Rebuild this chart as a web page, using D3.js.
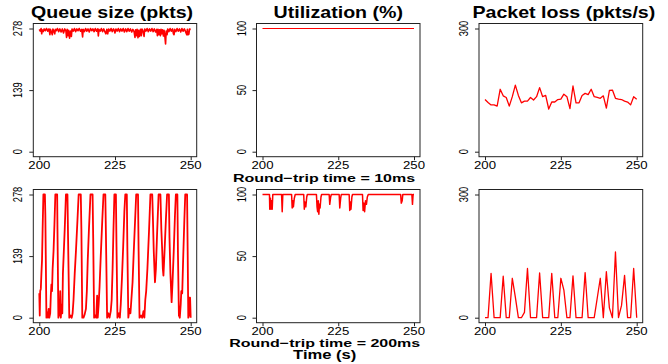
<!DOCTYPE html>
<html><head><meta charset="utf-8">
<script src="https://cdn.jsdelivr.net/npm/d3@7"></script>
<style>body{margin:0;background:#fff}svg{display:block}text{font-family:"Liberation Sans",Arial,Helvetica,sans-serif;fill:#000}</style>
</head><body><svg id="c" width="668" height="364"></svg>
<script>
// ---------- data ----------
const xTicks = [200, 225, 250];
const queueTicks = [0, 139, 278];
const utilTicks = [0, 50, 100];
const lossTicks = [0, 300];
const titles = ["Queue size (pkts)", "Utilization (%)", "Packet loss (pkts/s)"];
const rowLabels = ["Round\u2212trip time = 10ms", "Round\u2212trip time = 200ms"];
const xLabel = "Time (s)";

// RTT = 10ms, queue size
const queue10Time = [200,200.3,200.6,200.8,200.95,201.3,201.6,202,202.4,202.8,203.2,203.5,203.7,204.0,204.3,204.5,204.8,205.1,205.3,205.6,206.0,206.4,206.8,207.2,207.6,208.0,208.4,208.8,209.0,209.2,209.5,209.7,210.0,210.3,210.6,210.8,211.2,211.6,212,212.4,212.8,213.2,213.6,214.0,214.3,214.5,214.9,215.3,215.7,216.1,216.5,216.9,217.3,217.7,218.1,218.5,218.9,219.3,219.5,219.7,220.1,220.5,220.9,221.3,221.7,222.0,222.3,222.6,222.9,223.3,223.7,224.1,224.5,224.8,225.0,225.3,225.7,226.1,226.5,226.9,227.3,227.7,228.1,228.5,228.9,229.3,229.7,230.1,230.5,230.9,231.3,231.6,231.8,232.1,232.3,232.6,232.8,233.1,233.4,233.7,233.9,234.3,234.6,234.8,235.2,235.6,236.0,236.4,236.8,237.2,237.6,238.0,238.4,238.8,239.0,239.2,239.5,239.7,240.0,240.2,240.5,240.7,241.0,241.2,241.5,241.7,241.9,242.2,242.4,242.8,243.2,243.6,244.0,244.3,244.5,244.7,245.1,245.5,245.9,246.3,246.7,247.1,247.5,247.9,248.3,248.7,248.9,249.1,249.4,249.6,250];
const queue10Vals = [276,272,278,266,275,271,277,273,278,272,277,264,276,270,264,277,272,266,276,273,278,271,277,270,277,268,277,272,258,276,262,274,256,272,260,277,272,278,271,277,273,278,272,276,259,276,271,278,272,277,270,278,273,277,271,278,272,277,261,276,272,278,271,277,270,266,276,266,277,272,278,271,277,273,268,277,272,278,271,277,272,278,270,277,271,278,272,277,270,276,271,258,275,262,276,257,274,260,276,262,277,271,260,277,272,278,271,277,272,278,271,277,270,276,262,276,264,275,262,276,266,275,261,274,258,243,272,264,277,271,278,272,277,266,264,276,271,278,272,277,270,278,272,277,271,264,276,264,265,277,276];

// RTT = 10ms, utilization
const util10Time = [200, 250];
const util10Vals = [100, 100];

// packet loss (one value per second, 200..250)
const lossTime = d3.range(200, 251);
const loss10Vals = [127,120,114,114,111,152,136,132,111,134,162,137,119,123,123,132,126,134,156,134,137,104,121,121,127,128,140,134,105,160,119,119,137,142,139,152,134,132,130,136,106,149,150,130,128,127,123,121,114,134,128];
const loss200Vals = [0,0,108,0,0,0,101,0,0,96,50,0,0,13,120,0,0,0,109,0,0,0,108,0,0,96,67,0,0,102,0,0,0,110,0,0,0,48,96,0,112,24,0,160,0,30,103,0,0,120,0];

// RTT = 200ms, queue size
const queue200Time = [200.0,200.15,200.3,200.5,200.7,200.9,201.1,201.35,201.85,202.0,202.35,202.6,202.8,203.1,203.3,203.6,203.8,204.0,204.2,204.4,204.7,205.0,205.3,205.9,206.0,206.3,206.5,206.7,206.9,207.1,207.4,207.6,207.8,208.1,208.4,208.8,209.3,209.5,209.9,210.3,210.7,211.0,211.3,211.7,212.1,212.6,213.0,213.7,213.9,214.2,214.6,215.0,215.4,215.7,216.0,216.4,216.9,217.6,217.8,218.1,218.5,218.8,219.1,219.3,219.6,219.9,220.3,220.8,221.2,221.8,222.0,222.4,222.8,223.2,223.6,223.9,224.2,224.5,224.8,225.3,225.5,225.8,226.3,226.6,226.9,227.3,227.7,228.1,228.4,228.9,229.1,229.4,229.8,230.1,230.4,230.8,231.2,231.7,232.0,232.6,232.8,233.1,233.6,234.0,234.4,234.7,235.0,235.3,235.7,236.2,236.7,237.3,237.5,237.8,238.2,238.5,238.9,239.4,240.0,240.3,240.6,240.8,241.0,241.3,241.8,242.2,242.8,243.0,243.3,243.7,244.0,244.4,244.8,245.1,245.6,245.8,246.1,246.4,246.7,246.9,247.2,247.5,247.9,248.2,248.8,249.0,249.2,249.4,249.6,249.8,250.0];
const queue200Vals = [55,5,60,65,100,130,200,278,278,230,0,12,0,20,0,10,50,75,60,110,150,210,278,278,200,0,40,5,60,0,30,10,100,150,200,278,278,180,0,5,0,10,40,100,150,220,278,278,200,0,0,8,20,60,130,200,278,278,180,0,5,0,50,0,30,70,140,220,278,278,190,0,10,0,15,40,110,200,278,278,160,0,10,0,30,90,160,240,278,278,150,0,20,10,40,80,150,230,278,278,150,0,5,0,15,0,40,60,110,190,278,278,230,150,80,110,190,278,278,200,150,110,95,140,220,278,278,180,100,35,80,150,230,278,278,140,5,0,30,60,55,130,220,278,278,150,0,5,45,45,0];

// RTT = 200ms, utilization
const util200Time = [200,202.3,202.4,202.6,202.8,203.0,203.2,203.4,206.3,206.5,206.7,209.6,209.8,210.0,210.2,210.5,210.8,213.6,213.8,214.0,214.3,214.6,214.8,217.8,218.0,218.2,218.4,218.6,218.8,219.0,219.3,219.5,222.0,222.2,222.5,222.7,225.3,225.5,225.8,226.0,228.6,228.8,229.0,229.2,229.5,229.7,233.0,233.2,233.5,233.7,234.0,234.3,234.6,234.9,245.6,245.8,246.1,246.3,249.3,249.5,249.7,250];
const util200Vals = [100,100,88,97,88,95,88,100,100,86,100,100,89,95,90,97,100,100,88,94,90,98,100,100,90,86,95,84,92,89,98,100,100,92,98,100,100,89,97,100,100,87,94,88,98,100,100,87,93,86,95,92,98,100,100,93,95,100,100,92,100,100];

// ---------- layout ----------
const cols = [[33.3,196.7],[256.5,420],[479,642.7]];
const rows = [[23.5,156.7],[189.5,322.7]];
const padX = 6, padY = 5;

const svg = d3.select("#c");

function txt(x, y, s, size, weight, sx, sy, rot, anchor){
  svg.append("text")
    .attr("transform", `translate(${x},${y}) rotate(${rot||0}) scale(${sx},${sy})`)
    .attr("text-anchor", anchor||"middle")
    .style("font-size", size+"px")
    .style("font-weight", weight)
    .text(s);
}

const panels = [
  {r:0,c:0,ticks:queueTicks,max:278,t:queue10Time,v:queue10Vals,w:1.6},
  {r:0,c:1,ticks:utilTicks,max:100,t:util10Time,v:util10Vals,w:1.2},
  {r:0,c:2,ticks:lossTicks,max:300,t:lossTime,v:loss10Vals,w:1.3},
  {r:1,c:0,ticks:queueTicks,max:278,t:queue200Time,v:queue200Vals,w:1.8},
  {r:1,c:1,ticks:utilTicks,max:100,t:util200Time,v:util200Vals,w:1.5},
  {r:1,c:2,ticks:lossTicks,max:300,t:lossTime,v:loss200Vals,w:1.3}
];

panels.forEach(p=>{
  const [x0,x1] = cols[p.c], [y0,y1] = rows[p.r];
  const x = d3.scaleLinear().domain([200,250]).range([x0+padX, x1-padX]);
  const y = d3.scaleLinear().domain([0,p.max]).range([y1-padY, y0+padY]);
  const g = svg.append("g");
  // data line
  const pts = p.t.map((t,i)=>[t,p.v[i]]);
  g.append("path").datum(pts)
    .attr("d", d3.line().x(d=>x(d[0])).y(d=>y(d[1])))
    .attr("fill","none").attr("stroke","#ff0000")
    .attr("stroke-width",p.w).attr("stroke-linejoin","round");
  // box
  g.append("rect").attr("x",x0).attr("y",y0).attr("width",x1-x0).attr("height",y1-y0)
    .attr("fill","none").attr("stroke","#222").attr("stroke-width",1);
  // x axis
  const ax = g.append("g").attr("transform",`translate(0,${y1})`)
    .call(d3.axisBottom(x).tickValues(xTicks).tickSize(3.5).tickFormat(""));
  ax.select(".domain").remove();
  ax.selectAll("line").attr("stroke","#222");
  // y axis
  const ay = g.append("g").attr("transform",`translate(${x0},0)`)
    .call(d3.axisLeft(y).tickValues(p.ticks).tickSize(4).tickFormat(""));
  ay.select(".domain").remove();
  ay.selectAll("line").attr("stroke","#222");
  // tick labels
  const xb = p.r===0 ? 169.3 : 335;
  xTicks.forEach(v=> txt(x(v), xb, String(v), 13.2, "normal", 1, 0.8, 0));
  p.ticks.forEach(v=> txt(x0-11, y(v), String(v), 13, "normal", 0.72, 1, -90));
});

// titles
titles.forEach((s,i)=>{
  const cx = (cols[i][0]+cols[i][1])/2 + (i===2?3:(i===0?-3:0));
  txt(cx, 18.3, s, 19.6, "bold", 1, 0.82, 0);
});
txt(324, 181.5, rowLabels[0], 16, "bold", 1, 0.74, 0);
txt(324.7, 346.7, rowLabels[1], 16, "bold", 1, 0.74, 0);
txt(324.7, 358.5, xLabel, 16.6, "bold", 1, 0.8, 0);
</script></body></html>
